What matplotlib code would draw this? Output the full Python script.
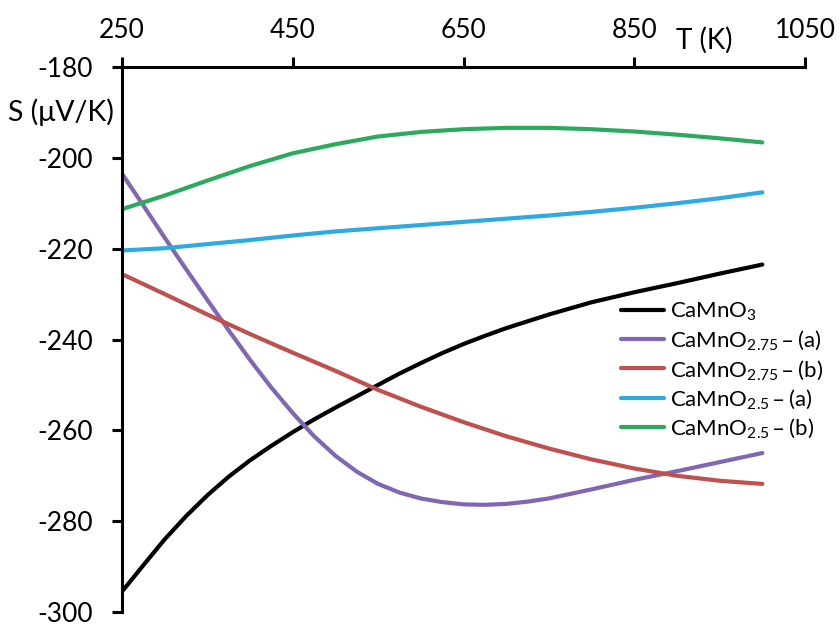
import matplotlib
matplotlib.use("Agg")
import matplotlib.pyplot as plt

plt.rcParams["font.family"] = ["Lato", "DejaVu Sans"]
plt.rcParams["mathtext.default"] = "regular"
plt.rcParams["axes.unicode_minus"] = False

# temperaturas (K)
T = [250, 300, 350, 400, 450, 500, 550, 600, 650, 700, 750, 800, 850, 900, 950, 1000]
T_fino = [250, 275, 300, 325, 350, 375, 400, 425, 450, 475, 500, 525, 550, 575,
          600, 625, 650, 675, 700, 725, 750, 800, 850, 900, 950, 1000]

# Seebeck (uV/K)
s_camno3 = [-295.5, -289.7, -284.0, -278.9, -274.3, -270.2, -266.6, -263.4, -260.4,
            -257.6, -255.0, -252.5, -250.0, -247.5, -245.2, -243.0, -241.0, -239.2,
            -237.5, -236.0, -234.5, -231.8, -229.6, -227.6, -225.5, -223.5]
s_275a = [-203.5, -210.5, -217.6, -224.5, -231.3, -238.0, -244.5, -250.6, -256.2,
          -261.3, -265.6, -269.1, -271.8, -273.7, -275.0, -275.8, -276.3, -276.4,
          -276.2, -275.7, -275.0, -273.0, -270.9, -269.0, -267.0, -265.0]
s_275b = [-225.6, -230.0, -234.5, -238.8, -242.9, -246.9, -251.1, -254.8,
          -258.2, -261.3, -264.0, -266.4, -268.4, -270.0, -271.1, -271.8]
s_25a = [-220.4, -219.9, -219.0, -218.1, -217.1, -216.2, -215.5, -214.8,
         -214.1, -213.4, -212.7, -211.9, -211.0, -210.0, -208.9, -207.6]
s_25b = [-211.3, -208.3, -205.0, -201.8, -199.0, -197.0, -195.3, -194.3,
         -193.7, -193.4, -193.4, -193.7, -194.2, -194.9, -195.7, -196.6]

series = [
    (T_fino, s_camno3, "CaMnO$_3$", "#000000"),
    (T_fino, s_275a, "CaMnO$_{2.75}$\u2009– (a)", "#8066B4"),
    (T, s_275b, "CaMnO$_{2.75}$\u2009– (b)", "#C0504D"),
    (T, s_25a, "CaMnO$_{2.5}$\u2009– (a)", "#2DAAE0"),
    (T, s_25b, "CaMnO$_{2.5}$\u2009– (b)", "#2BAA5E"),
]

fig = plt.figure(figsize=(8.4, 6.28), dpi=100)
ax = fig.add_axes([122 / 840, 16 / 628, 683 / 840, 545 / 628])

for xs, ys, lab, cor in series:
    ax.plot(xs, ys, color=cor, linewidth=3.0, label=lab, solid_capstyle="round")

ax.set_xlim(250, 1050)
ax.set_ylim(-300, -180)
ax.set_xticks([250, 450, 650, 850, 1050])
ax.set_yticks(range(-300, -179, 20))

ax.spines["right"].set_visible(False)
ax.spines["bottom"].set_visible(False)
ax.spines["top"].set_linewidth(2.2)
ax.spines["left"].set_linewidth(2.2)
ax.xaxis.tick_top()
ax.tick_params(axis="x", direction="out", length=7, width=2.2, labelsize=19, pad=10)
ax.tick_params(axis="y", direction="out", length=7, width=2.2, labelsize=19, pad=14)

fig.text(8 / 840, 1 - 112 / 628, "S (μV/K)", fontsize=20.5, ha="left", va="center")
fig.text(676 / 840, 1 - 40 / 628, "T (K)", fontsize=20, ha="left", va="center")

ax.legend(loc="upper left", bbox_to_anchor=(0.715, 0.592), frameon=False,
          fontsize=16, handlelength=1.9, handletextpad=0.3, labelspacing=0.26,
          borderpad=0)

fig.savefig("out.png", dpi=100)
